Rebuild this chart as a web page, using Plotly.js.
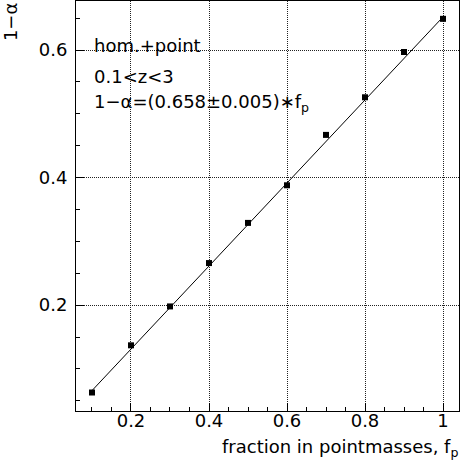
<!DOCTYPE html>
<html>
<head>
<meta charset="utf-8">
<script src="https://cdn.plot.ly/plotly-3.0.1.min.js"></script>
<style>
  html, body { margin: 0; padding: 0; background: #fff; }
  #chart { width: 461px; height: 461px; }
</style>
</head>
<body>
<div id="chart"></div>
<script>
// fraction in pointmasses and measured 1-alpha
let fp = [0.1, 0.2, 0.3, 0.4, 0.5, 0.6, 0.7, 0.8, 0.9, 1.0];
let oneMinusAlpha = [0.063, 0.137, 0.198, 0.266, 0.329, 0.388, 0.467, 0.526, 0.597, 0.649];

// fitted line ends
let fitX = [0.1, 1.0];
let fitY = [0.066, 0.652];

let labels = ['hom.+point', '0.1<z<3', '1\u2212\u03b1=(0.658\u00b10.005)\u2217f<sub>p</sub>'];

let font = 'DejaVu Sans, Arial, sans-serif';

let fit = {
  x: fitX,
  y: fitY,
  mode: 'lines',
  line: {color: 'black', width: 1},
  hoverinfo: 'skip'
};

let pts = {
  x: fp,
  y: oneMinusAlpha,
  mode: 'markers',
  marker: {symbol: 'square', size: 6, color: 'black'}
};

let notes = labels.map((t, i) => {
  return {
    text: t,
    xref: 'paper', yref: 'paper',
    x: 0.042, y: [0.892, 0.815, 0.752][i],
    xanchor: 'left', yanchor: 'middle',
    showarrow: false,
    font: {family: font, size: 18, color: 'black'}
  };
});

notes.push({
  text: '1\u2212\u03b1',
  xref: 'paper', yref: 'paper',
  x: -0.172, y: 1.0,
  xanchor: 'center', yanchor: 'top',
  textangle: -90,
  showarrow: false,
  font: {family: font, size: 18, color: 'black'}
});

notes.push({
  text: 'fraction in pointmasses, f<sub>p</sub>',
  xref: 'paper', yref: 'paper',
  x: 1.003, y: -0.09,
  xanchor: 'right', yanchor: 'middle',
  showarrow: false,
  font: {family: font, size: 18, color: 'black'}
});

let axisBase = {
  showline: true,
  mirror: true,
  linecolor: 'black',
  linewidth: 1,
  ticks: 'inside',
  ticklen: 8,
  tickcolor: 'black',
  showgrid: true,
  gridcolor: '#222',
  griddash: '1px,1px',
  gridwidth: 1,
  zeroline: false,
  tickfont: {family: font, size: 18, color: 'black'}
};

let layout = {
  width: 461,
  height: 461,
  margin: {l: 76, r: 2, t: 1, b: 50},
  paper_bgcolor: 'white',
  plot_bgcolor: 'white',
  showlegend: false,
  xaxis: Object.assign({}, axisBase, {
    range: [0.059, 1.041],
    tickvals: [0.2, 0.4, 0.6, 0.8, 1.0],
    ticktext: ['0.2', '0.4', '0.6', '0.8', '1'],
    ticklabelstandoff: -7,
    minor: {dtick: 0.05, tick0: 0, ticks: 'inside', ticklen: 4, tickcolor: 'black', showgrid: false}
  }),
  yaxis: Object.assign({}, axisBase, {
    range: [0.034, 0.677],
    tickvals: [0.2, 0.4, 0.6],
    ticktext: ['0.2', '0.4', '0.6'],
    ticklabelstandoff: 4,
    minor: {dtick: 0.05, tick0: 0, ticks: 'inside', ticklen: 4, tickcolor: 'black', showgrid: false}
  }),
  annotations: notes
};

Plotly.newPlot('chart', [fit, pts], layout, {staticPlot: true});
</script>
</body>
</html>
